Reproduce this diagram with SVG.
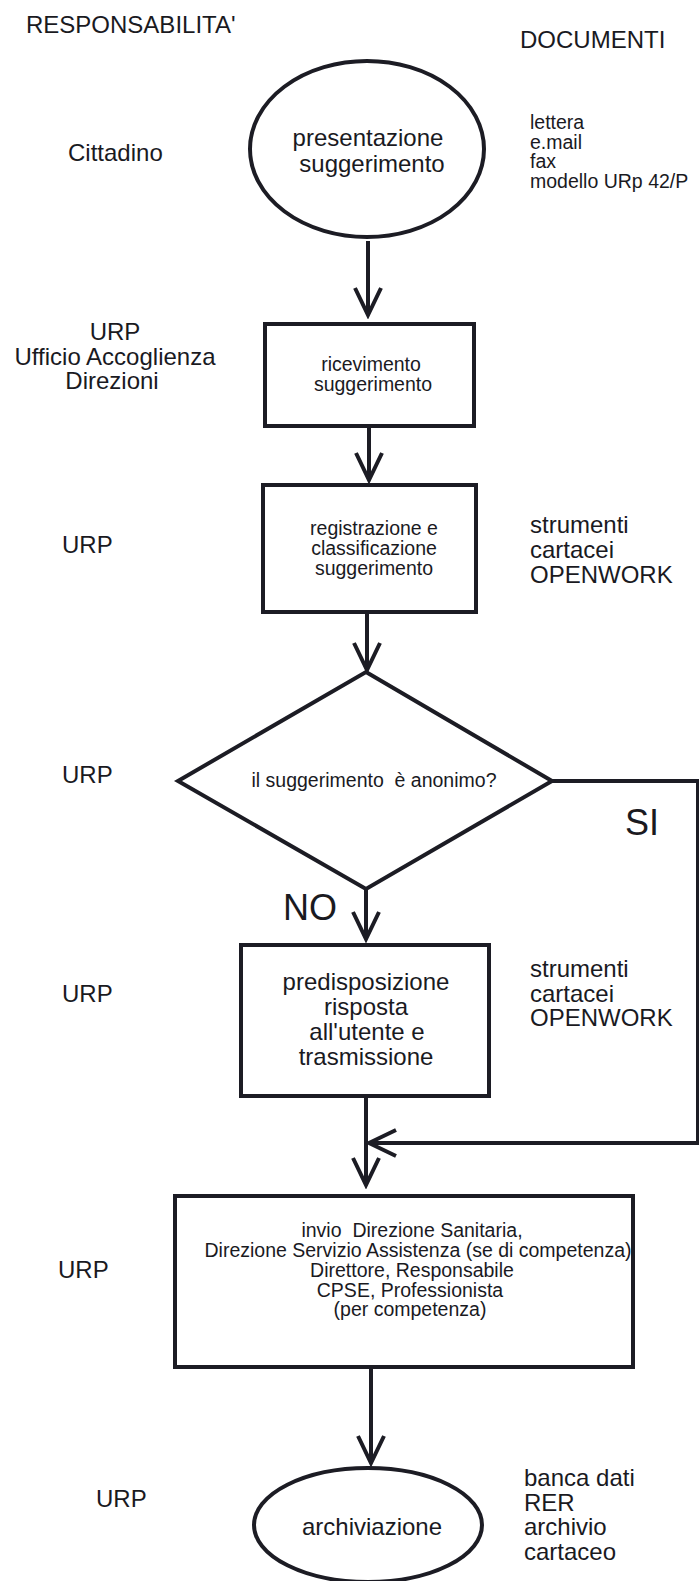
<svg xmlns="http://www.w3.org/2000/svg" width="699" height="1581" viewBox="0 0 699 1581">
<style>
  text { font-family: "Liberation Sans", Arial, sans-serif; fill: #1a1a1f; }
  .t24 { font-size: 24px; }
  .t19 { font-size: 19.5px; }
  .big { font-size: 36px; }
  .mid { text-anchor: middle; }
  .shape { fill: #ffffff; stroke: #1c1c24; stroke-width: 4; }
  .conn { fill: none; stroke: #1c1c24; stroke-width: 4; }
</style>
<defs>
  <marker id="arrow" markerUnits="userSpaceOnUse" viewBox="-32 -18 36 36" markerWidth="36" markerHeight="36" refX="0" refY="0" orient="auto">
    <path d="M-27,-13 L0,0 L-27,13" fill="none" stroke="#1c1c24" stroke-width="4" stroke-linejoin="miter"/>
  </marker>
</defs>
<rect width="699" height="1581" fill="#ffffff"/>

<g id="headers">
  <text class="t24" x="26" y="33">RESPONSABILITA'</text>
  <text class="t24" x="520" y="48">DOCUMENTI</text>
</g>

<g id="responsabilita">
  <text class="t24" x="68" y="161">Cittadino</text>
  <text class="t24 mid" x="115" y="340">URP</text>
  <text class="t24 mid" x="115" y="365">Ufficio Accoglienza</text>
  <text class="t24 mid" x="112" y="389">Direzioni</text>
  <text class="t24" x="62" y="553">URP</text>
  <text class="t24" x="62" y="783">URP</text>
  <text class="t24" x="62" y="1002">URP</text>
  <text class="t24" x="58" y="1278">URP</text>
  <text class="t24" x="96" y="1507">URP</text>
</g>

<g id="documenti">
  <text class="t19" x="530" y="129">lettera</text>
  <text class="t19" x="530" y="148.5">e.mail</text>
  <text class="t19" x="530" y="168">fax</text>
  <text class="t19" x="530" y="187.5">modello URp 42/P</text>
  <text class="t24" x="530" y="533">strumenti</text>
  <text class="t24" x="530" y="558">cartacei</text>
  <text class="t24" x="530" y="583">OPENWORK</text>
  <text class="t24" x="530" y="977">strumenti</text>
  <text class="t24" x="530" y="1002">cartacei</text>
  <text class="t24" x="530" y="1026">OPENWORK</text>
  <text class="t24" x="524" y="1486">banca dati</text>
  <text class="t24" x="524" y="1511">RER</text>
  <text class="t24" x="524" y="1535">archivio</text>
  <text class="t24" x="524" y="1560">cartaceo</text>
</g>

<g id="connectors">
  <line class="conn" x1="368" y1="241" x2="368" y2="315" marker-end="url(#arrow)"/>
  <line class="conn" x1="369" y1="428" x2="369" y2="480" marker-end="url(#arrow)"/>
  <line class="conn" x1="367" y1="614" x2="367" y2="670" marker-end="url(#arrow)"/>
  <line class="conn" x1="366" y1="889" x2="366" y2="939" marker-end="url(#arrow)"/>
  <line class="conn" x1="366" y1="1098" x2="366" y2="1185" marker-end="url(#arrow)"/>
  <polyline class="conn" points="552,781 698,781 698,1143 369,1143" marker-end="url(#arrow)"/>
  <line class="conn" x1="371" y1="1369" x2="371" y2="1463" marker-end="url(#arrow)"/>
</g>

<g id="labels">
  <text class="big" x="625" y="835">SI</text>
  <text class="big" x="283" y="920">NO</text>
</g>

<g id="n1">
  <ellipse class="shape" cx="367" cy="149" rx="117" ry="88"/>
  <text class="t24 mid" x="368" y="146">presentazione</text>
  <text class="t24 mid" x="372" y="172">suggerimento</text>
</g>

<g id="n2">
  <rect class="shape" x="265" y="324" width="209" height="102"/>
  <text class="t19 mid" x="371" y="371">ricevimento</text>
  <text class="t19 mid" x="373" y="391">suggerimento</text>
</g>

<g id="n3">
  <rect class="shape" x="263" y="485" width="213" height="127"/>
  <text class="t19 mid" x="374" y="535">registrazione e</text>
  <text class="t19 mid" x="374" y="555">classificazione</text>
  <text class="t19 mid" x="374" y="575">suggerimento</text>
</g>

<g id="n4">
  <polygon class="shape" points="366,672 552,781 366,889 178,781"/>
  <text class="t19 mid" x="374" y="787" xml:space="preserve">il suggerimento  è anonimo?</text>
</g>

<g id="n5">
  <rect class="shape" x="241" y="945" width="248" height="151"/>
  <text class="t24 mid" x="366" y="990">predisposizione</text>
  <text class="t24 mid" x="366" y="1015">risposta</text>
  <text class="t24 mid" x="367" y="1040">all'utente e</text>
  <text class="t24 mid" x="366" y="1065">trasmissione</text>
</g>

<g id="n6">
  <rect class="shape" x="175" y="1196" width="458" height="171"/>
  <text class="t19 mid" x="412" y="1237" xml:space="preserve">invio  Direzione Sanitaria,</text>
  <text class="t19 mid" x="418" y="1257">Direzione Servizio Assistenza (se di competenza)</text>
  <text class="t19 mid" x="412" y="1277">Direttore, Responsabile</text>
  <text class="t19 mid" x="410" y="1297">CPSE, Professionista</text>
  <text class="t19 mid" x="410" y="1316">(per competenza)</text>
</g>

<g id="n7">
  <ellipse class="shape" cx="368" cy="1525" rx="114" ry="57"/>
  <text class="t24 mid" x="372" y="1535">archiviazione</text>
</g>
</svg>
